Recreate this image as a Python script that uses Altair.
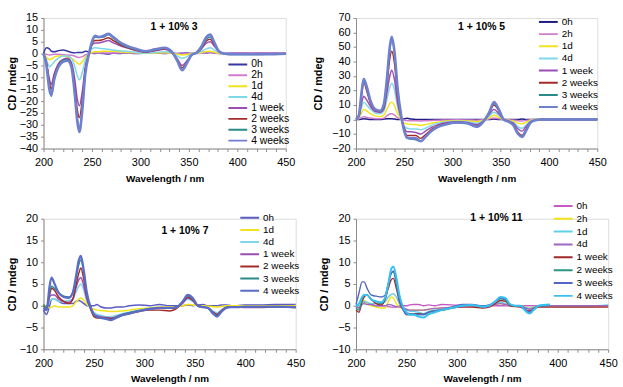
import altair as alt
import pandas as pd

FONT = "Liberation Sans"

# Wavelength grid (nm) shared by every spectrum
WL = [200, 203, 206, 208, 211, 215, 220, 225, 229, 232, 235, 237, 240, 243, 247,
      250, 253, 257, 262, 267, 272, 278, 285, 295, 305, 315, 325, 332, 338, 343,
      348, 353, 358, 363, 368, 372, 376, 381, 386, 392, 400, 415, 430, 450]

# ---- 1 + 10% 3 ----------------------------------------------------------
A_0H = [0, 2.5, 2, 1, 0.8, 1.2, 1.5, 1, 0.5, 0.3, 0.5, 0.5, 0.5, 1, 0.8, 0.3, 0, 0.2, 0, -0.2,
        0.2, 0, 0.3, 0, 0.2, 0.5, 0, 0.3, 0, 0.2, 0.3, 0, 0.2, 0.5, 0.3, 0.5, 0.2, 0, 0, 0.2,
        0.3, 0.2, 0.3, 0.2]
A_2H = [0, -0.3, -0.6, -0.5, -0.3, -0.3, -0.5, -0.6, -0.7, -1, -1.5, -1.6, -1.3, -0.6, 0, 0.2,
        0.3, 0.3, 0.3, 0.3, 0.3, 0.3, 0.2, 0.2, 0.1, 0.2, 0.2, 0.1, 0, -0.2, 0, 0, 0, 0.2, 0.4,
        0.5, 0.3, 0.1, 0, 0, 0.3, 0.3, 0.3, 0.3]
A_1D = [0, -1.5, -2.5, -2.3, -1.5, -1, -1, -1.3, -2, -3, -4, -4.5, -3.5, -1.5, -0.2, 0.5, 0.8,
        0.8, 1, 1, 1, 0.8, 0.6, 0.4, 0.2, 0.3, 0.4, 0.2, -0.3, -0.6, -0.4, 0, 0.1, 0.5, 0.9, 1,
        0.7, 0.2, 0, -0.1, -0.1, -0.1, -0.1, 0]
A_4D = [0, -2.5, -5.5, -5, -3.5, -2, -1, -1, -2, -5, -9.5, -11, -8, -3, 0.5, 2, 2.5, 2.3, 2,
        1.8, 1.5, 1.2, 1, 0.5, 0.2, 0.5, 0.8, 0.3, -1, -2, -1.3, -0.2, 0.2, 1, 2, 2.5, 1.6, 0.5,
        0, -0.2, -0.2, -0.2, -0.2, -0.2]
A_1W = [0, -3.5, -10.5, -13, -8.5, -4.5, -2.5, -2, -4, -10, -19.5, -22, -16, -6, 0, 3.5, 4.5,
        4.5, 5, 5.5, 4.5, 3.5, 2.5, 1.3, 0.6, 1.2, 1.8, 0.6, -2.2, -5, -3, -0.4, 0.3, 2, 4.4, 5,
        3.3, 0.8, 0, -0.2, -0.3, -0.2, -0.2, -0.2]
A_2W = [0, -4, -12, -15, -9.5, -5, -3, -2.5, -5, -13, -24, -27, -19.5, -7, 0, 4, 5.5, 5.5, 6,
        6.7, 5.5, 4, 2.8, 1.5, 0.7, 1.4, 2, 0.7, -2.5, -6, -3.5, -0.5, 0.3, 2.3, 5.3, 6, 4, 1, 0,
        -0.3, -0.3, -0.3, -0.3, -0.2]
A_3W = [0, -4.5, -14, -18, -11, -5.5, -3, -2.5, -5.5, -15, -28, -31, -23, -8.5, 0, 4.5, 7, 6.8,
        7, 8, 6.5, 4.5, 3, 1.8, 0.8, 1.6, 2.2, 0.8, -3, -7, -4, -0.5, 0.4, 2.5, 6, 7, 4.5, 1, 0,
        -0.4, -0.4, -0.4, -0.3, -0.2]
A_4W = [0, -5, -15, -17.5, -11, -6, -3.5, -3, -6, -16, -29, -33, -24, -9, 0, 5, 7.5, 7, 7.5,
        8.3, 7, 5, 3.5, 2, 1, 1.8, 2.5, 1, -3, -7, -4, -0.5, 0.5, 3, 7, 8, 5, 1, 0, -0.3, -0.3,
        -0.3, -0.3, 0]

# ---- 1 + 10% 5 ----------------------------------------------------------
B_0H = [0, 0, 0.3, 0.5, 0.3, 0, 0, 0, 0.3, 0.5, 0.5, 0.5, 0.3, 0, 0, 0.5, 0.8, 0.3, 0, 0, 0, 0,
        0, 0, 0, 0, 0, 0, 0, 0.3, 0, 0, 0, 0, 0, 0.3, 0, 0, 0, 0, 0, 0, 0, 0]
B_2H = [0, 0.5, 1.5, 2, 1.5, 1, 0.5, 0.5, 1, 2.5, 3.8, 4, 3, 1.3, 0, -0.5, -0.8, -0.8, -0.8, -1,
        -0.8, -0.6, -0.5, -0.3, -0.2, -0.3, -0.5, -0.2, 0.3, 1, 0.5, 0, -0.2, -0.3, -0.8, -1,
        -0.6, -0.2, 0, 0, 0, 0, 0, 0]
B_1D = [0, 1, 5, 7, 6, 4, 2.5, 2, 3, 7, 11, 12, 9.5, 4, 0, -2.5, -3, -3.3, -3.5, -4, -3.5, -2.5,
        -1.8, -1, -0.8, -1, -1.5, -0.5, 1.2, 3, 1.5, 0, -0.5, -1, -2.5, -3, -2, -0.5, 0, 0, 0, 0,
        0, 0]
B_4D = [0, 1.5, 9, 12, 10, 7, 4.5, 4, 6, 14, 22, 25, 20, 9, 0, -4.5, -6, -6.5, -6.5, -7, -6, -4,
        -2.5, -1.5, -1.2, -1.5, -2.5, -0.8, 2.5, 5, 3, 0, -0.8, -2, -5, -6, -4, -1, -0.2, 0, 0,
        0, 0, 0]
B_1W = [0, 2, 12, 16, 13.5, 9, 5.5, 5, 7.5, 18, 30, 34, 27, 12, 0.5, -5.5, -8.5, -8.5, -9, -10,
        -8, -5.5, -3.5, -2, -1.5, -2, -3.5, -1, 3.5, 7, 4, 0, -1, -2.5, -6.5, -8, -5, -1.5, -0.3,
        0, 0, 0, 0, 0]
B_2W = [0, 2.5, 18, 26, 20, 11, 6.5, 5.5, 9, 23, 42, 47, 38, 17, 1, -7, -11, -11, -11, -13,
        -10.5, -7, -4.5, -2.5, -2, -2.5, -4.5, -1.2, 4.5, 10, 6, 0, -1.2, -3.5, -9, -11, -7, -2,
        -0.5, 0, 0, 0, 0, 0]
B_3W = [0, 3, 19, 28, 22, 12, 7, 6, 10, 27, 48, 55, 45, 21, 2, -8, -13, -13.5, -14, -15, -12,
        -8, -5, -3, -2, -2.5, -5, -1.5, 5, 11, 6.5, 0, -1.5, -4, -10, -12, -8, -2, -0.5, 0, 0,
        0, 0, 0]
B_4W = [0, 3, 20, 28, 23, 13, 7, 6, 11, 28, 50, 57, 46, 22, 2, -8, -12.5, -13, -13, -15, -12,
        -8, -5, -3, -2, -2.5, -5, -1.5, 5, 12, 7, 0, -1.5, -4, -10, -12, -8, -2, -0.5, 0, 0, 0,
        0, 0]

# ---- 1 + 10% 7 ----------------------------------------------------------
C_0H = [-1, -2, 0, 1.5, 1.5, 1, 0.5, 0.5, 0.5, 1, 1.2, 1, 0.5, 0, 0, 0, 0.3, -0.3, -0.5, -0.5,
        -0.3, -0.3, 0, 0.2, 0, 0.3, 0, 0, 0, 0.2, 0, 0.2, 0.3, 0, 0, 0, 0.2, 0.2, 0, 0, 0.2, 0.2,
        0.3, 0.3]
C_1D = [0, 0, -0.5, -0.3, 0, -0.3, -0.3, -0.3, 0, 0.8, 1.5, 1.8, 1.2, 0.3, -0.5, -0.8, -1, -1.1,
        -1.2, -1.3, -1.3, -1.2, -1, -0.7, -0.5, -0.3, -0.3, -0.2, 0, 0.3, 0.2, 0, 0, -0.1, -0.2,
        -0.3, -0.2, 0, 0, 0, 0, 0, 0, 0]
C_4D = [0, -1, 1, 1.5, 1.5, 1, 1, 1.2, 1.5, 3, 4.5, 5, 3.5, 1, -0.8, -1.5, -2, -2.2, -2.5, -2.5,
        -2.2, -1.8, -1.5, -1, -0.7, -0.5, -0.5, -0.3, 0.6, 1.5, 1, 0, -0.2, -0.4, -1.2, -1.6, -1,
        -0.3, -0.2, -0.2, -0.2, -0.2, -0.2, -0.2]
C_1W = [-0.5, -1, 2, 2.5, 2.5, 1.5, 1, 0.8, 1.5, 4, 6, 6.5, 4.5, 1.5, -0.5, -2, -2.3, -2.5, -2.7,
        -2.8, -2.5, -2, -1.6, -1.2, -0.8, -0.6, -0.6, -0.4, 0.6, 1.8, 1.2, 0, -0.3, -0.5, -1.4,
        -2, -1.2, -0.4, -0.3, -0.3, -0.4, -0.4, -0.3, -0.3]
C_2W = [0, -0.5, 2.5, 4, 3.5, 2, 1, 0.5, 1.5, 4.5, 7.5, 8.7, 6, 2, -1, -2.5, -2.8, -2.8, -2.8,
        -3, -2.7, -2.2, -1.8, -1.3, -1, -1, -1.2, -0.6, 0.8, 2, 1.3, 0, -0.3, -0.5, -1.5, -2,
        -1.2, -0.4, -0.3, -0.3, -0.3, -0.3, -0.3, -0.4]
C_3W = [0.3, -0.5, 3, 4.5, 4, 3, 2.2, 2, 3, 6, 9.5, 10.5, 7.5, 2.5, -0.5, -2, -2.5, -2.8, -3,
        -3.2, -2.6, -2, -1.6, -1.1, -0.7, -0.5, -0.5, -0.3, 1, 2.3, 1.6, 0, -0.3, -0.5, -1.6,
        -2.3, -1.4, -0.4, -0.2, -0.2, -0.2, -0.2, -0.3, -0.4]
C_4W = [-0.5, -1, 4.5, 6.5, 5, 3, 2, 1.8, 3, 6.5, 10.5, 11.5, 8, 3, -0.5, -2, -2.5, -2.8, -3,
        -3.3, -2.8, -2.2, -1.8, -1.2, -0.7, -0.5, -0.5, -0.3, 1, 2.5, 1.8, 0, -0.3, -0.5, -1.8,
        -2.5, -1.5, -0.5, -0.3, -0.3, -0.2, -0.2, -0.2, -0.3]

# ---- 1 + 10% 11 (the last three runs stop at 392 nm) --------------------
N = None
D_0H = [0, -0.5, 0.5, 0.8, 0.5, 0.3, 0, 0, 0, -0.2, -0.3, -0.3, -0.3, 0, 0, 0, 0.2, 0.3, 0.3,
        0, 0.2, 0, 0.3, 0.2, 0, 0, 0, 0, 0, 0, 0, 0, 0, 0, 0, 0, 0, 0, 0, 0, 0, 0, 0, 0]
D_2H = [0, 0, 0.3, 1.2, 0.5, 0, -0.3, -0.5, -0.5, 1, 2, 1.8, 0.5, -0.3, -0.8, -1, -1, -1, -1,
        -1, -0.8, -0.6, -0.5, -0.3, 0, 0, -0.1, 0, 0.3, 0.5, 0.3, 0, 0, 0, -0.3, -0.5, -0.3, 0,
        0, 0, 0, 0, 0, 0]
D_1D = [0, 0, 0.5, 1, 0.8, 0.5, 0.5, 0.5, 1, 2, 2.6, 2.8, 2, 0.5, -0.5, -1, -1.2, -1.3, -1.5,
        -1.8, -1.3, -1, -0.8, -0.4, 0, 0, -0.2, 0, 0.4, 0.8, 0.5, 0, 0, 0, -0.4, -0.6, -0.4, 0,
        0, 0, 0, 0, 0, 0.2]
D_4D = [0, -0.5, 0.3, 0.5, 0.3, 0.3, 0, 0, 0, 0.3, 0.2, 0, -0.2, -0.3, -0.5, -0.8, -1, -1, -1,
        -1, -0.8, -0.6, -0.5, -0.3, 0, 0, -0.2, 0, 0.3, 0.5, 0.3, 0, 0, 0, -0.5, -0.8, -0.5, 0,
        0, 0, 0, 0, 0, 0]
D_1W = [-1, -1.5, 1, 2, 2.5, 1.5, 0.5, 0.2, 1.5, 4, 6, 6.3, 4, 1, -1, -1.5, -1.8, -1.8, -1.8,
        -2, -1.5, -1.2, -1, -0.5, -0.3, -0.3, -0.5, -0.3, 0.5, 1.2, 1, 0, -0.2, -0.3, -1, -1.2,
        -0.8, -0.3, -0.3, -0.3, -0.3, -0.3, -0.3, -0.3]
D_2W = [-0.5, -1, 1.5, 2.5, 2.5, 1.5, 1, 0.5, 2, 5, 7.5, 7.8, 5, 1.5, -1, -2, -2, -2, -2, -2,
        -1.5, -1.2, -1, -0.5, 0, 0.2, -0.2, 0, 1, 1.6, 1.3, 0.2, 0, 0, -1, -1.6, -0.8, 0, 0, 0.2,
        N, N, N, N]
D_3W = [0.3, 3, 5.5, 5.5, 4, 2.5, 2.2, 2, 2.5, 5, 7.5, 8, 5.5, 1.5, -1, -2, -2, -2, -2, -2,
        -1.5, -1.2, -1, -0.3, 0.3, 0.3, 0, 0.2, 1, 1.8, 1.5, 0.3, 0, 0, -0.8, -1.5, -0.8, 0, 0,
        0.3, N, N, N, N]
D_4W = [0, 0.5, 2, 2.5, 2.5, 1.5, 1, 0.8, 2, 5, 8.5, 9, 6.5, 2.5, -0.5, -1.5, -2, -2, -2.5,
        -2.7, -2, -1.5, -1, -0.5, 0, 0.2, -0.2, 0, 1, 2, 1.8, 0.3, 0, 0, -1.2, -1.8, -1, 0, 0.2,
        0.3, N, N, N, N]

LABELS8 = ["0h", "2h", "1d", "4d", "1 week", "2 weeks", "3 weeks", "4 weeks"]
LABELS7 = ["0h", "1d", "4d", "1 week", "2 weeks", "3 weeks", "4 weeks"]

YELLOW, LCYAN, PURPLE, DRED, TEAL, LAV = "#f2e31c", "#7fd8ea", "#9a4fb5", "#a52a2a", "#2a8a87", "#6f80cf"
PINK = "#d27ccc"

AXIS_GREY = "#8c8c8c"


def panel(title, names, series, colors, widths, ydom, ystep, w, h,
          title_xy, legend_xy, row_h, row_pad, legend_font, ytitle_pad):
    y_axis = alt.Axis(
        values=list(range(ydom[0], ydom[1] + 1, ystep)), title="CD / mdeg",
        grid=False, tickSize=3, labelPadding=3, titlePadding=ytitle_pad,
        domainColor=AXIS_GREY, tickColor=AXIS_GREY, labelColor="black", titleColor="black",
        labelFont=FONT, titleFont=FONT, labelFontSize=11, titleFontSize=11,
        titleFontWeight="bold", labelFlush=False, labelOverlap=False)
    x_axis = alt.Axis(
        values=list(range(200, 451, 10)), title="Wavelength / nm",
        labelExpr="datum.value % 50 == 0 ? datum.label : ''",
        grid=False, tickSize=3, labelPadding=5, titlePadding=6,
        domainColor=AXIS_GREY, tickColor=AXIS_GREY, labelColor="black", titleColor="black",
        labelFont=FONT, titleFont=FONT, labelFontSize=11, titleFontSize=10,
        titleFontWeight="bold", labelFlush=False, labelOverlap=False)
    color_scale = alt.Scale(domain=names, range=colors)
    legend = alt.Legend(
        orient="none", legendX=legend_xy[0], legendY=legend_xy[1], title=None,
        symbolType="stroke", symbolSize=361, symbolStrokeWidth=2, padding=0,
        clipHeight=row_h, rowPadding=row_pad, labelOffset=3, labelFont=FONT,
        labelFontSize=legend_font, labelColor="black")

    layers = []
    for i, (name, vals, sw) in enumerate(zip(names, series, widths)):
        df = pd.DataFrame({"wl": WL, "cd": vals, "series": name}).dropna()
        layers.append(
            alt.Chart(df).mark_line(interpolate="monotone", strokeWidth=sw).encode(
                x=alt.X("wl:Q", scale=alt.Scale(domain=[200, 450], nice=False, zero=False),
                        axis=x_axis),
                y=alt.Y("cd:Q", scale=alt.Scale(domain=ydom, nice=False, zero=False),
                        axis=y_axis),
                color=alt.Color("series:N", scale=color_scale,
                                legend=legend if i == 0 else None),
            )
        )
    label = alt.Chart(pd.DataFrame({"t": [title]})).mark_text(
        font=FONT, fontSize=10.5, fontWeight="bold", color="black",
        align="center", baseline="middle"
    ).encode(text="t:N", x=alt.value(title_xy[0]), y=alt.value(title_xy[1]))
    return alt.layer(*layers, label).properties(width=w, height=h)


p1 = panel("1 + 10% 3", LABELS8,
           [A_0H, A_2H, A_1D, A_4D, A_1W, A_2W, A_3W, A_4W],
           ["#3636a4", PINK, YELLOW, LCYAN, PURPLE, DRED, TEAL, LAV],
           [1.5] * 7 + [2.6], [-40, 15], 5, 245, 132,
           (132, 9), (186, 41.5), 11, 0, 10.5, 2)
p2 = panel("1 + 10% 5", LABELS8,
           [B_0H, B_2H, B_1D, B_4D, B_1W, B_2W, B_3W, B_4W],
           ["#1c1c84", PINK, YELLOW, LCYAN, PURPLE, DRED, TEAL, LAV],
           [1.5] * 7 + [2.6], [-20, 70], 10, 244, 132,
           (127, 9), (184, -2), 12, 0.3, 10, 8)
p3 = panel("1 + 10% 7", LABELS7,
           [C_0H, C_1D, C_4D, C_1W, C_2W, C_3W, C_4W],
           ["#5a5ac2", YELLOW, LCYAN, PURPLE, DRED, TEAL, "#5a6cc8"],
           [1.5] * 6 + [2.2], [-10, 20], 5, 255, 132,
           (143, 12), (198, -7), 12, 0.3, 10, 2)
p4 = panel("1 + 10% 11", LABELS8,
           [D_0H, D_2H, D_1D, D_4D, D_1W, D_2W, D_3W, D_4W],
           ["#c85ac8", YELLOW, "#5fcfea", "#a067c0", "#a02828", "#2b9585", "#5466c4", "#38c0f0"],
           [1.4] * 7 + [2.0], [-10, 20], 5, 255, 132,
           (142, -1), (199, -19.5), 13, 0, 10, 2)

chart = alt.concat(
    p1, p2, p3, p4, columns=2, bounds="flush",
    spacing={"row": 71, "column": 61}
).resolve_scale(color="independent").properties(
    padding={"left": 5, "top": 9, "right": 5, "bottom": 5}
).configure_view(stroke=None).configure(background="white")

chart.save("out.html", embed_options={"renderer": "svg", "actions": False})
